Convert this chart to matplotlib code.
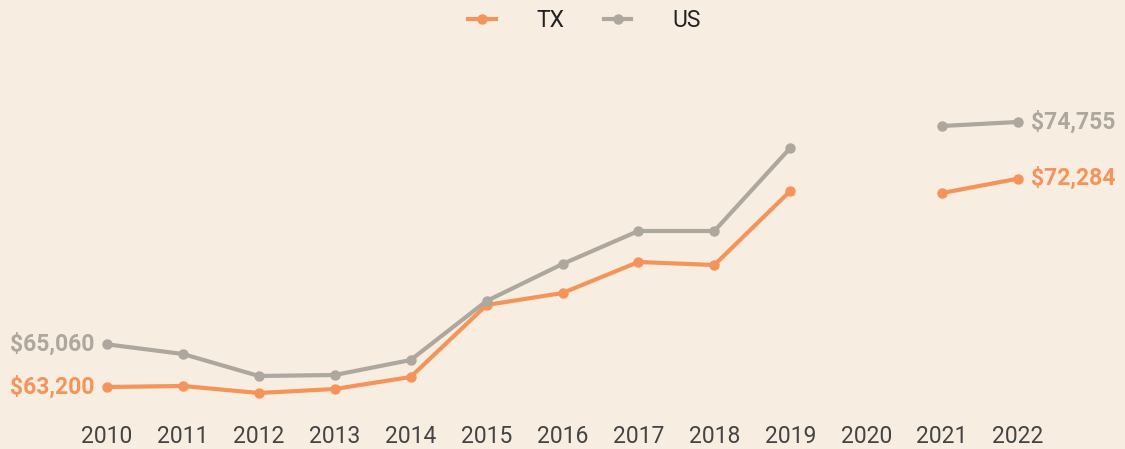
import numpy as np
import matplotlib.pyplot as plt

years = [2010, 2011, 2012, 2013, 2014, 2015, 2016, 2017, 2018, 2019, 2020, 2021, 2022]
tx_income = [63200, 63244, 62938, 63113, 63636, 66775, 67298, 68650, 68519, 71746, np.nan, 71658, 72284]
us_income = [65060, 64639, 63680, 63723, 64377, 66950, 68563, 70002, 70002, 73620, np.nan, 74580, 74755]

bg = '#F7EEE1'
tx_color = '#F4945A'
us_color = '#AEA79E'

plt.rcParams['font.family'] = ['Roboto', 'DejaVu Sans']

fig = plt.figure(figsize=(11.25, 4.49), dpi=100, facecolor=bg)
ax = fig.add_axes([0, (449 - 415) / 449, 1, 415 / 449])
ax.set_facecolor(bg)

ax.plot(years, tx_income, color=tx_color, lw=3, marker='o', ms=6.5, label='TX')
ax.plot(years, us_income, color=us_color, lw=3, marker='o', ms=6.5, label='US')

ax.set_xlim(2008.591, 2023.409)
ax.set_ylim(61979, 80073)

# end labels
for vals, col in [(tx_income, tx_color), (us_income, us_color)]:
    ax.annotate(f'${vals[0]:,.0f}', (years[0], vals[0]), xytext=(-9, 0),
                textcoords='offset points', ha='right', va='center',
                fontsize=16.5, fontweight='bold', color=col)
    ax.annotate(f'${vals[-1]:,.0f}', (years[-1], vals[-1]), xytext=(9, 0),
                textcoords='offset points', ha='left', va='center',
                fontsize=16.5, fontweight='bold', color=col)

ax.set_xticks(years)
ax.set_xticklabels([str(y) for y in years])
ax.tick_params(axis='x', length=0, pad=7, labelsize=16.5, labelcolor='#444444')
ax.set_yticks([])
for s in ax.spines.values():
    s.set_visible(False)

fig.legend(loc='upper center', bbox_to_anchor=(0.5196, 1.025), ncol=2, frameon=False,
           fontsize=16.5, handlelength=1.2, handletextpad=1.8, columnspacing=1.7,
           labelcolor='#222222')

fig.savefig('out.png', dpi=100, facecolor=bg)
